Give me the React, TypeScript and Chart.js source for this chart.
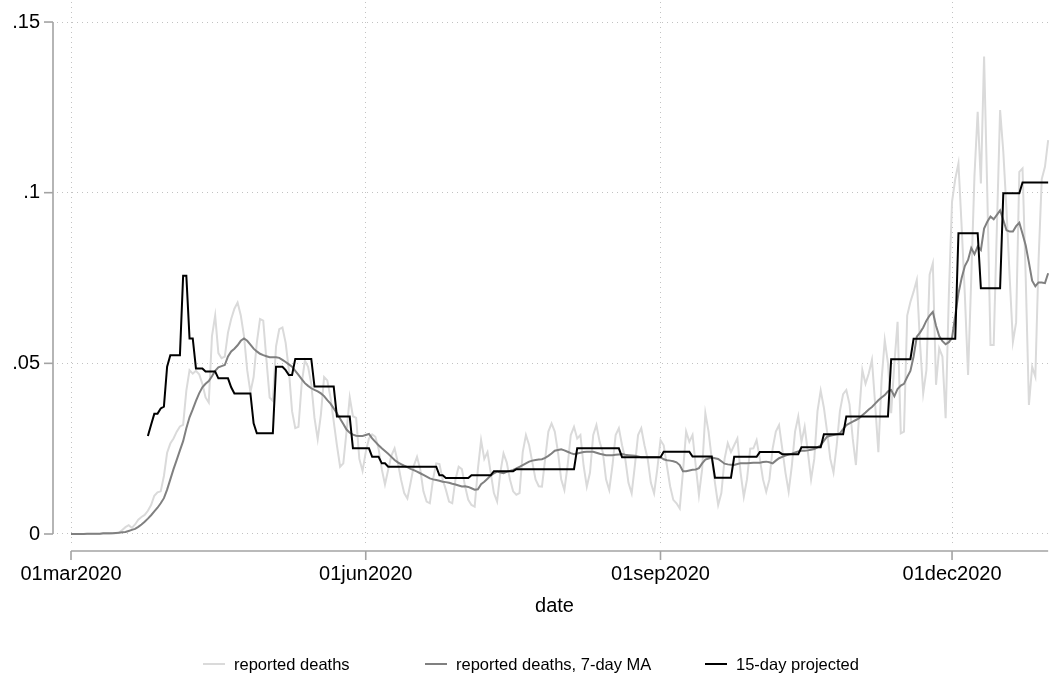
import React, { useEffect, useRef } from 'react';
import { Chart, registerables } from 'chart.js';

Chart.register(...registerables);

// ---------- data ----------
// day index 0 = 01mar2020, one value per day up to 31dec2020
const dayTicks = [0, 92, 184, 275];
const dayTickLabels = ['01mar2020', '01jun2020', '01sep2020', '01dec2020'];
const yTicks = [0, 0.05, 0.1, 0.15];
const yTickLabels = ['0', '.05', '.1', '.15'];
const seriesNames = ['reported deaths', 'reported deaths, 7-day MA', '15-day projected'];
const axisTitle = 'date';

const reportedDeaths = [
  0, 0, 0, 0, 0, 0, 0, 0, 0, 0,
  0.0001, 0.0001, 0.0001, 0.0002, 0.0002,
  0.0004, 0.0012, 0.002, 0.0026, 0.0018,
  0.0028, 0.0042, 0.005, 0.0056, 0.0068,
  0.0085, 0.0112, 0.0122, 0.0125, 0.017,
  0.0238, 0.0265, 0.028, 0.03, 0.0315,
  0.032, 0.042, 0.048, 0.047, 0.0478,
  0.0468, 0.044, 0.04, 0.0385, 0.058,
  0.064, 0.053, 0.0515, 0.052, 0.059,
  0.063, 0.066, 0.0678, 0.064, 0.058,
  0.048, 0.0415, 0.046, 0.056, 0.063,
  0.0625, 0.051, 0.04, 0.039, 0.055,
  0.06, 0.0605, 0.056, 0.048, 0.036,
  0.031, 0.0314, 0.044, 0.0508, 0.049,
  0.044, 0.034, 0.0278, 0.035, 0.046,
  0.045, 0.04, 0.033, 0.026, 0.0197,
  0.0207, 0.03, 0.04, 0.0345, 0.034,
  0.022, 0.0185, 0.024, 0.028, 0.0292,
  0.0285, 0.025, 0.019, 0.0145, 0.0188,
  0.023, 0.0251, 0.021, 0.016, 0.012,
  0.0104, 0.015, 0.02, 0.0226, 0.019,
  0.0125, 0.0095, 0.009, 0.016, 0.0207,
  0.0205, 0.016, 0.013, 0.0095, 0.009,
  0.016, 0.0197, 0.019, 0.014, 0.01,
  0.0085, 0.008, 0.019, 0.0275, 0.022,
  0.024, 0.018, 0.012, 0.0095, 0.018,
  0.0236, 0.021, 0.016, 0.0125, 0.0115,
  0.012, 0.024, 0.029, 0.026, 0.021,
  0.016, 0.014, 0.0139, 0.022, 0.03,
  0.0324, 0.03, 0.024, 0.016, 0.0129,
  0.02, 0.029, 0.0314, 0.028, 0.029,
  0.02, 0.0139, 0.018, 0.029, 0.0319,
  0.027, 0.024, 0.016, 0.0129, 0.02,
  0.029, 0.031, 0.026, 0.022, 0.015,
  0.0119, 0.02, 0.029, 0.031, 0.026,
  0.022, 0.015, 0.0119, 0.019, 0.0275,
  0.026, 0.02, 0.014, 0.01, 0.009,
  0.0075, 0.018, 0.03, 0.027, 0.029,
  0.02, 0.0114, 0.019, 0.0354, 0.03,
  0.022, 0.015, 0.0085, 0.012, 0.022,
  0.0266, 0.024, 0.026, 0.028, 0.018,
  0.0109, 0.016, 0.025, 0.0251, 0.0275,
  0.022, 0.016, 0.0124, 0.016, 0.025,
  0.03, 0.0319, 0.025, 0.018, 0.0124,
  0.02, 0.03, 0.0344, 0.027, 0.0314,
  0.024, 0.016, 0.022, 0.036, 0.042,
  0.037, 0.03, 0.022, 0.018, 0.026,
  0.036, 0.041, 0.0422, 0.038, 0.028,
  0.0202, 0.035, 0.048, 0.044, 0.047,
  0.051, 0.038, 0.024, 0.045, 0.0568,
  0.05, 0.0354, 0.05, 0.0622, 0.0295,
  0.03, 0.064, 0.068, 0.071, 0.0744,
  0.056, 0.0412, 0.048, 0.076, 0.0793,
  0.0437, 0.0544, 0.052, 0.0339, 0.07,
  0.0974, 0.104, 0.1086, 0.09, 0.07,
  0.0466, 0.075, 0.105, 0.1237, 0.1027,
  0.1399, 0.1, 0.0554, 0.0554, 0.09,
  0.1242, 0.112, 0.095, 0.075, 0.0563,
  0.062, 0.1061, 0.1071, 0.075, 0.0378,
  0.049, 0.0461, 0.08, 0.104, 0.1076, 0.1154,
];

const reportedDeathsMA7 = [
  0, 0, 0, 0, 0,
  0.0001, 0.0001, 0.0001, 0.0001, 0.0001,
  0.0002, 0.0002, 0.0002, 0.0002, 0.0003,
  0.0004, 0.0005, 0.0006, 0.0009, 0.0012,
  0.0015, 0.0021, 0.0028, 0.0036, 0.0045,
  0.0055, 0.0066, 0.0077, 0.009, 0.0105,
  0.013, 0.016, 0.019, 0.0217, 0.0245,
  0.0272, 0.031, 0.0342, 0.0365, 0.039,
  0.0412, 0.043, 0.044, 0.0448, 0.0462,
  0.0478, 0.0488, 0.0492, 0.0495, 0.052,
  0.0535, 0.0543, 0.0553, 0.0566, 0.0573,
  0.0566, 0.0555, 0.0543, 0.0535, 0.0528,
  0.0524, 0.0521, 0.0518, 0.0518, 0.0518,
  0.0516, 0.051, 0.0504, 0.0497, 0.049,
  0.0478, 0.0466, 0.0454, 0.0442, 0.0434,
  0.0427, 0.0422, 0.0418, 0.0412, 0.0404,
  0.0392, 0.0382, 0.0368, 0.0354, 0.0338,
  0.0322, 0.0306, 0.0297, 0.0291, 0.0288,
  0.0287, 0.0287, 0.029, 0.0293, 0.028,
  0.027, 0.026, 0.0251, 0.0243, 0.0235,
  0.0226, 0.0217, 0.021, 0.0205, 0.02,
  0.0196, 0.0191, 0.0187, 0.0183, 0.0178,
  0.0173, 0.0168, 0.0163, 0.016, 0.0158,
  0.0156, 0.0153, 0.0152, 0.015, 0.0147,
  0.0145, 0.0142, 0.0139, 0.014, 0.0138,
  0.0134, 0.013, 0.0131, 0.0146, 0.0153,
  0.0162, 0.0171, 0.0178, 0.0183, 0.018,
  0.0178, 0.0182, 0.0185, 0.0188, 0.0192,
  0.0197, 0.0202, 0.0207, 0.0212, 0.0215,
  0.0217, 0.0218, 0.0219, 0.0223, 0.0229,
  0.0236, 0.0244, 0.0246, 0.0248, 0.0245,
  0.0241, 0.0237, 0.0234, 0.0236, 0.0238,
  0.024, 0.0241, 0.0241, 0.0241, 0.0238,
  0.0235, 0.0233, 0.0231, 0.0231, 0.0231,
  0.0232, 0.0233, 0.0234, 0.0232, 0.0231,
  0.023, 0.0229, 0.0227, 0.0225, 0.0225,
  0.0225, 0.0225, 0.0225, 0.0225, 0.0225,
  0.0219, 0.0216, 0.0215, 0.0213, 0.021,
  0.0202, 0.0184, 0.0184, 0.0186, 0.0188,
  0.0189, 0.0193, 0.0207, 0.0218, 0.0221,
  0.0224, 0.0222, 0.022, 0.0213, 0.0206,
  0.0204, 0.0203, 0.0202, 0.0205, 0.0207,
  0.0207, 0.0207, 0.0208, 0.0209, 0.0209,
  0.0209, 0.0211, 0.0212, 0.021, 0.0207,
  0.0215, 0.0222, 0.0226, 0.023, 0.0233,
  0.0235, 0.0239, 0.0242, 0.0244, 0.0244,
  0.0245, 0.0247, 0.0249, 0.0254, 0.026,
  0.0273, 0.0285, 0.0288, 0.029, 0.0292,
  0.0295, 0.0307, 0.0319, 0.0324, 0.0329,
  0.0334, 0.0339, 0.0348, 0.0356, 0.0365,
  0.0372, 0.0382, 0.0392, 0.04, 0.0407,
  0.0418, 0.0422, 0.0404, 0.0425, 0.0435,
  0.044, 0.046, 0.0478, 0.052, 0.0578,
  0.059, 0.0605, 0.0625, 0.064, 0.0651,
  0.061, 0.058, 0.0565, 0.0556, 0.0562,
  0.0575, 0.064, 0.0705, 0.075, 0.0785,
  0.0803, 0.0838, 0.082, 0.0842, 0.0832,
  0.0895, 0.0915, 0.093, 0.0922, 0.0935,
  0.0948, 0.092, 0.089, 0.0886, 0.0886,
  0.0902, 0.0912, 0.088, 0.0845, 0.0795,
  0.0742, 0.0726, 0.0737, 0.0737, 0.0735, 0.0764,
];

const projected15 = [
  null, null, null, null, null, null, null, null, null, null, null, null,
  null, null, null, null, null, null, null, null, null, null, null, null,
  0.0287, 0.032, 0.0352, 0.0352, 0.0368, 0.0373,
  0.049, 0.0524, 0.0524, 0.0524, 0.0524,
  0.0757, 0.0757, 0.0573, 0.0573, 0.0485,
  0.0485, 0.0485, 0.0476, 0.0476, 0.0476,
  0.0476, 0.0456, 0.0456, 0.0456, 0.0456,
  0.043, 0.0412, 0.0412, 0.0412, 0.0412,
  0.0412, 0.0412, 0.0324, 0.0295, 0.0295,
  0.0295, 0.0295, 0.0295, 0.0295, 0.049,
  0.049, 0.049, 0.048, 0.0466, 0.0466,
  0.0513, 0.0513, 0.0513, 0.0513, 0.0513,
  0.0513, 0.0432, 0.0432, 0.0432, 0.0432,
  0.0432, 0.0432, 0.0432, 0.0344, 0.0344,
  0.0344, 0.0344, 0.0344, 0.0251, 0.0251,
  0.0251, 0.0251, 0.0251, 0.0251, 0.0226,
  0.0226, 0.0226, 0.0207, 0.0207, 0.0197,
  0.0197, 0.0197, 0.0197, 0.0197, 0.0197,
  0.0197, 0.0197, 0.0197, 0.0197, 0.0197,
  0.0197, 0.0197, 0.0197, 0.0197, 0.0197,
  0.0172, 0.0172, 0.0164, 0.0164, 0.0164,
  0.0164, 0.0164, 0.0164, 0.0164, 0.0164,
  0.0172, 0.0172, 0.0172, 0.0172, 0.0172,
  0.0172, 0.0172, 0.0184, 0.0184, 0.0184,
  0.0184, 0.0184, 0.0184, 0.0184, 0.019,
  0.019, 0.019, 0.019, 0.019, 0.019, 0.019, 0.019, 0.019, 0.019,
  0.019, 0.019, 0.019, 0.019, 0.019, 0.019, 0.019, 0.019, 0.019,
  0.0251, 0.0251, 0.0251, 0.0251, 0.0251, 0.0251, 0.0251,
  0.0251, 0.0251, 0.0251, 0.0251, 0.0251, 0.0251, 0.0251,
  0.0225, 0.0225, 0.0225, 0.0225, 0.0225, 0.0225, 0.0225,
  0.0225, 0.0225, 0.0225, 0.0225, 0.0225, 0.0225,
  0.0241, 0.0241, 0.0241, 0.0241, 0.0241, 0.0241, 0.0241, 0.0241, 0.0241,
  0.0227, 0.0227, 0.0227, 0.0227, 0.0227, 0.0227, 0.0227,
  0.0165, 0.0165, 0.0165, 0.0165, 0.0165, 0.0165,
  0.0226, 0.0226, 0.0226, 0.0226, 0.0226, 0.0226, 0.0226, 0.0226,
  0.024, 0.024, 0.024, 0.024, 0.024, 0.024, 0.024,
  0.0234, 0.0234, 0.0234, 0.0234, 0.0234, 0.0234,
  0.0254, 0.0254, 0.0254, 0.0254, 0.0254, 0.0254, 0.0254,
  0.0292, 0.0292, 0.0292, 0.0292, 0.0292, 0.0292, 0.0292,
  0.0344, 0.0344, 0.0344, 0.0344, 0.0344, 0.0344, 0.0344,
  0.0344, 0.0344, 0.0344, 0.0344, 0.0344, 0.0344, 0.0344,
  0.0512, 0.0512, 0.0512, 0.0512, 0.0512, 0.0512, 0.0512,
  0.0572, 0.0572, 0.0572, 0.0572, 0.0572, 0.0572, 0.0572,
  0.0572, 0.0572, 0.0572, 0.0572, 0.0572, 0.0572, 0.0572,
  0.0881, 0.0881, 0.0881, 0.0881, 0.0881, 0.0881, 0.0881,
  0.072, 0.072, 0.072, 0.072, 0.072, 0.072, 0.072,
  0.0998, 0.0998, 0.0998, 0.0998, 0.0998, 0.0998,
  0.103, 0.103, 0.103, 0.103, 0.103, 0.103, 0.103, 0.103, 0.103,
];

// ---------- styling ----------
const FONT = "'Liberation Sans', Arial, Helvetica, sans-serif";
const COLORS = ['#dadada', '#808080', '#000000'];
const AXIS_COLOR = '#a3a3a3';
const GRID_COLOR = '#c2c2c2';

const toPoints = (arr: (number | null)[]) => arr.map((v, i) => ({ x: i, y: v }));

const stataAxesAndLegend = {
  id: 'stataAxesAndLegend',
  afterDraw(chart: any) {
    const { ctx, chartArea, scales } = chart;
    const xs = scales.x;
    const ys = scales.y;
    const line = (x1: number, y1: number, x2: number, y2: number) => {
      ctx.beginPath();
      ctx.moveTo(x1, y1);
      ctx.lineTo(x2, y2);
      ctx.stroke();
    };
    ctx.save();
    ctx.strokeStyle = AXIS_COLOR;
    ctx.lineWidth = 1.6;
    ctx.lineCap = 'butt';
    // y axis
    const ax = chartArea.left - 4;
    line(ax, ys.getPixelForValue(yTicks[0]), ax, ys.getPixelForValue(yTicks[yTicks.length - 1]));
    yTicks.forEach((v) => {
      const py = ys.getPixelForValue(v);
      line(ax, py, ax - 9, py);
    });
    // x axis
    const ay = chartArea.bottom + 5;
    line(xs.getPixelForValue(0), ay, xs.getPixelForValue(reportedDeaths.length - 1), ay);
    dayTicks.forEach((v) => {
      const px = xs.getPixelForValue(v);
      line(px, ay, px, ay + 9);
    });

    // legend
    const keyStarts = [203, 425, 705];
    const keyLen = 22;
    const gap = 9;
    const ly = 664;
    ctx.font = `16.5px ${FONT}`;
    ctx.textBaseline = 'middle';
    ctx.textAlign = 'left';
    seriesNames.forEach((name, i) => {
      ctx.strokeStyle = COLORS[i];
      ctx.lineWidth = 2;
      line(keyStarts[i], ly, keyStarts[i] + keyLen, ly);
      ctx.fillStyle = '#000';
      ctx.fillText(name, keyStarts[i] + keyLen + gap, ly + 1);
    });
    ctx.restore();
  },
};

export default function App() {
  const canvasRef = useRef<HTMLCanvasElement | null>(null);

  useEffect(() => {
    const canvas = canvasRef.current;
    if (!canvas) return;
    const chart = new Chart(canvas, {
      type: 'line',
      data: {
        datasets: [
          {
            label: seriesNames[0],
            data: toPoints(reportedDeaths),
            borderColor: COLORS[0],
            borderWidth: 2,
            pointRadius: 0,
            tension: 0,
            order: 2,
          },
          {
            label: seriesNames[1],
            data: toPoints(reportedDeathsMA7),
            borderColor: COLORS[1],
            borderWidth: 2,
            pointRadius: 0,
            tension: 0,
            order: 1,
          },
          {
            label: seriesNames[2],
            data: toPoints(projected15),
            borderColor: COLORS[2],
            borderWidth: 2,
            pointRadius: 0,
            tension: 0,
            spanGaps: false,
            order: 0,
          },
        ] as any,
      },
      options: {
        animation: false,
        responsive: false,
        maintainAspectRatio: false,
        layout: { padding: { left: 0, right: 2, top: 2, bottom: 65 } },
        plugins: {
          legend: { display: false },
          tooltip: { enabled: false },
          title: { display: false },
        },
        scales: {
          x: {
            type: 'linear',
            min: -4.37,
            max: 306.2,
            afterBuildTicks: (s: any) => {
              s.ticks = dayTicks.map((v) => ({ value: v }));
            },
            afterFit: (s: any) => {
              s.height = 72;
              s.paddingLeft = 0;
              s.paddingRight = 0;
            },
            ticks: {
              autoSkip: false,
              maxRotation: 0,
              minRotation: 0,
              padding: 16,
              color: '#000',
              font: { family: FONT, size: 20 },
              callback: (_v: any, i: number) => dayTickLabels[i],
            },
            grid: { display: true, drawTicks: false, color: GRID_COLOR, lineWidth: 1 },
            border: { display: false, dash: [1, 4] },
            title: {
              display: true,
              text: axisTitle,
              color: '#000',
              font: { family: FONT, size: 20 },
              padding: 0,
            },
          },
          y: {
            type: 'linear',
            min: -0.003516,
            max: 0.15587,
            afterBuildTicks: (s: any) => {
              s.ticks = yTicks.map((v) => ({ value: v }));
            },
            afterFit: (s: any) => {
              s.width = 57;
              s.paddingTop = 0;
              s.paddingBottom = 0;
            },
            ticks: {
              padding: 17,
              color: '#000',
              font: { family: FONT, size: 20 },
              callback: (_v: any, i: number) => yTickLabels[i],
            },
            grid: { display: true, drawTicks: false, color: GRID_COLOR, lineWidth: 1 },
            border: { display: false, dash: [1, 4] },
          },
        },
      } as any,
      plugins: [stataAxesAndLegend],
    });
    return () => chart.destroy();
  }, []);

  return (
    <div style={{ position: 'absolute', left: 0, top: 0, width: 1054, height: 683, background: '#fff' }}>
      <canvas ref={canvasRef} width={1054} height={683} style={{ display: 'block' }} />
    </div>
  );
}
